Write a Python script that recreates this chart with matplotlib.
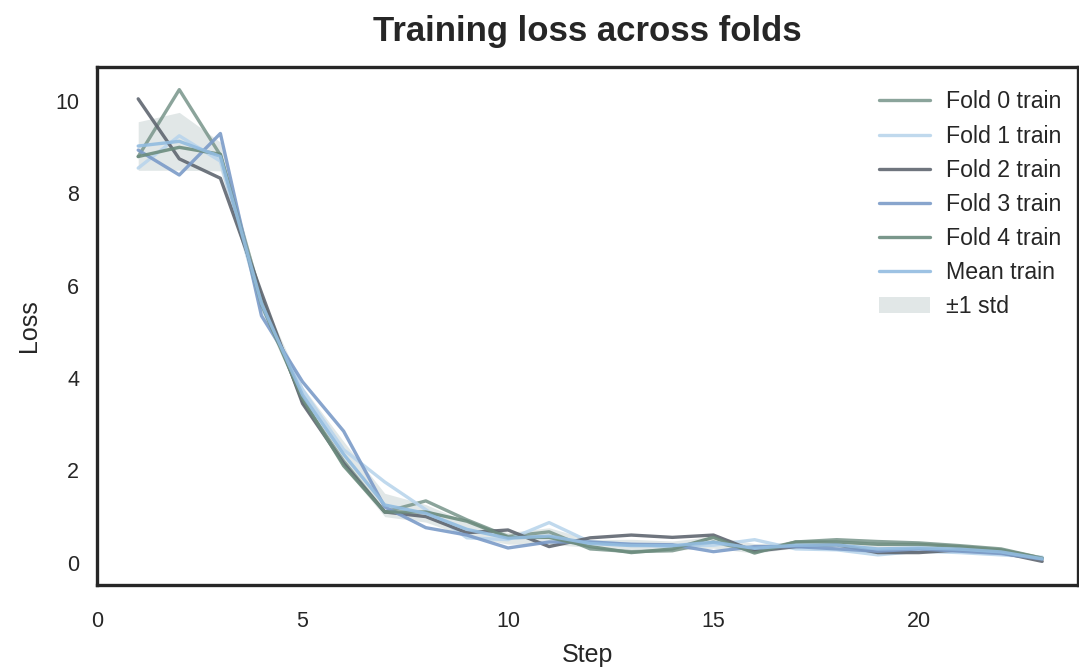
import numpy as np
import matplotlib
matplotlib.use("Agg")
import matplotlib.pyplot as plt
import seaborn as sns

steps = np.arange(1, 24)

fold0 = [8.80, 10.25, 8.83, 5.75, 3.50, 2.20, 1.10, 1.34, 0.93, 0.57, 0.67, 0.30,
         0.24, 0.26, 0.45, 0.25, 0.45, 0.50, 0.46, 0.43, 0.37, 0.30, 0.10]
fold1 = [8.55, 9.25, 8.70, 5.55, 3.75, 2.45, 1.75, 1.15, 0.54, 0.50, 0.87, 0.45,
         0.40, 0.35, 0.38, 0.50, 0.30, 0.28, 0.17, 0.25, 0.22, 0.17, 0.12]
fold2 = [10.05, 8.75, 8.33, 5.85, 3.45, 2.15, 1.10, 1.00, 0.65, 0.71, 0.35, 0.54,
         0.60, 0.55, 0.60, 0.25, 0.35, 0.39, 0.22, 0.22, 0.28, 0.22, 0.03]
fold3 = [8.94, 8.40, 9.30, 5.35, 3.92, 2.85, 1.21, 0.76, 0.60, 0.32, 0.45, 0.45,
         0.40, 0.39, 0.24, 0.35, 0.35, 0.30, 0.25, 0.30, 0.25, 0.20, 0.08]
fold4 = [8.80, 9.00, 8.85, 5.60, 3.55, 2.10, 1.10, 1.10, 0.90, 0.55, 0.55, 0.35,
         0.22, 0.30, 0.55, 0.21, 0.45, 0.45, 0.40, 0.40, 0.35, 0.28, 0.10]

folds = [fold0, fold1, fold2, fold3, fold4]
fold_colors = ["#7f9a90", "#b9d5ec", "#5f6670", "#7b9bc8", "#6c8c7e"]

sns.set_style("white")
plt.rcParams["font.family"] = ["Liberation Sans", "DejaVu Sans"]

fig = plt.figure(figsize=(10.79, 6.70), dpi=100)
ax = fig.add_axes([0.09, 0.127, 0.909, 0.773])

arr = np.array(folds)
mean = arr.mean(axis=0)
std = arr.std(axis=0)

for i, (f, c) in enumerate(zip(folds, fold_colors)):
    ax.plot(steps, f, color=c, lw=2.4, alpha=0.9, label=f"Fold {i} train")
ax.plot(steps, mean, color="#92bce0", lw=2.4, alpha=0.9, label="Mean train")
ax.fill_between(steps, mean - std, mean + std, color="#c9d4d4", alpha=0.55,
                lw=0, label="±1 std")

ax.set_xlim(0, 23.87)
ax.set_ylim(-0.48, 10.74)
ax.set_xticks([0, 5, 10, 15, 20])
ax.set_yticks([0, 2, 4, 6, 8, 10])
ax.tick_params(axis="both", labelsize=15.5, colors="#262626", length=0)
ax.tick_params(axis="x", pad=19)
ax.tick_params(axis="y", pad=13)

for s in ax.spines.values():
    s.set_color("#262626")
    s.set_linewidth(2.4)

ax.set_xlabel("Step", fontsize=18, color="#262626", labelpad=8)
ax.set_ylabel("Loss", fontsize=18, color="#262626", labelpad=10)
ax.set_title("Training loss across folds", fontsize=25, fontweight="bold",
             color="#262626", pad=19)

ax.legend(loc="upper right", bbox_to_anchor=(1.0, 0.986), frameon=False,
          fontsize=16.7, labelspacing=0.48, handlelength=2.2,
          handletextpad=0.72, borderaxespad=0.3)

fig.savefig("out.png", dpi=100)
